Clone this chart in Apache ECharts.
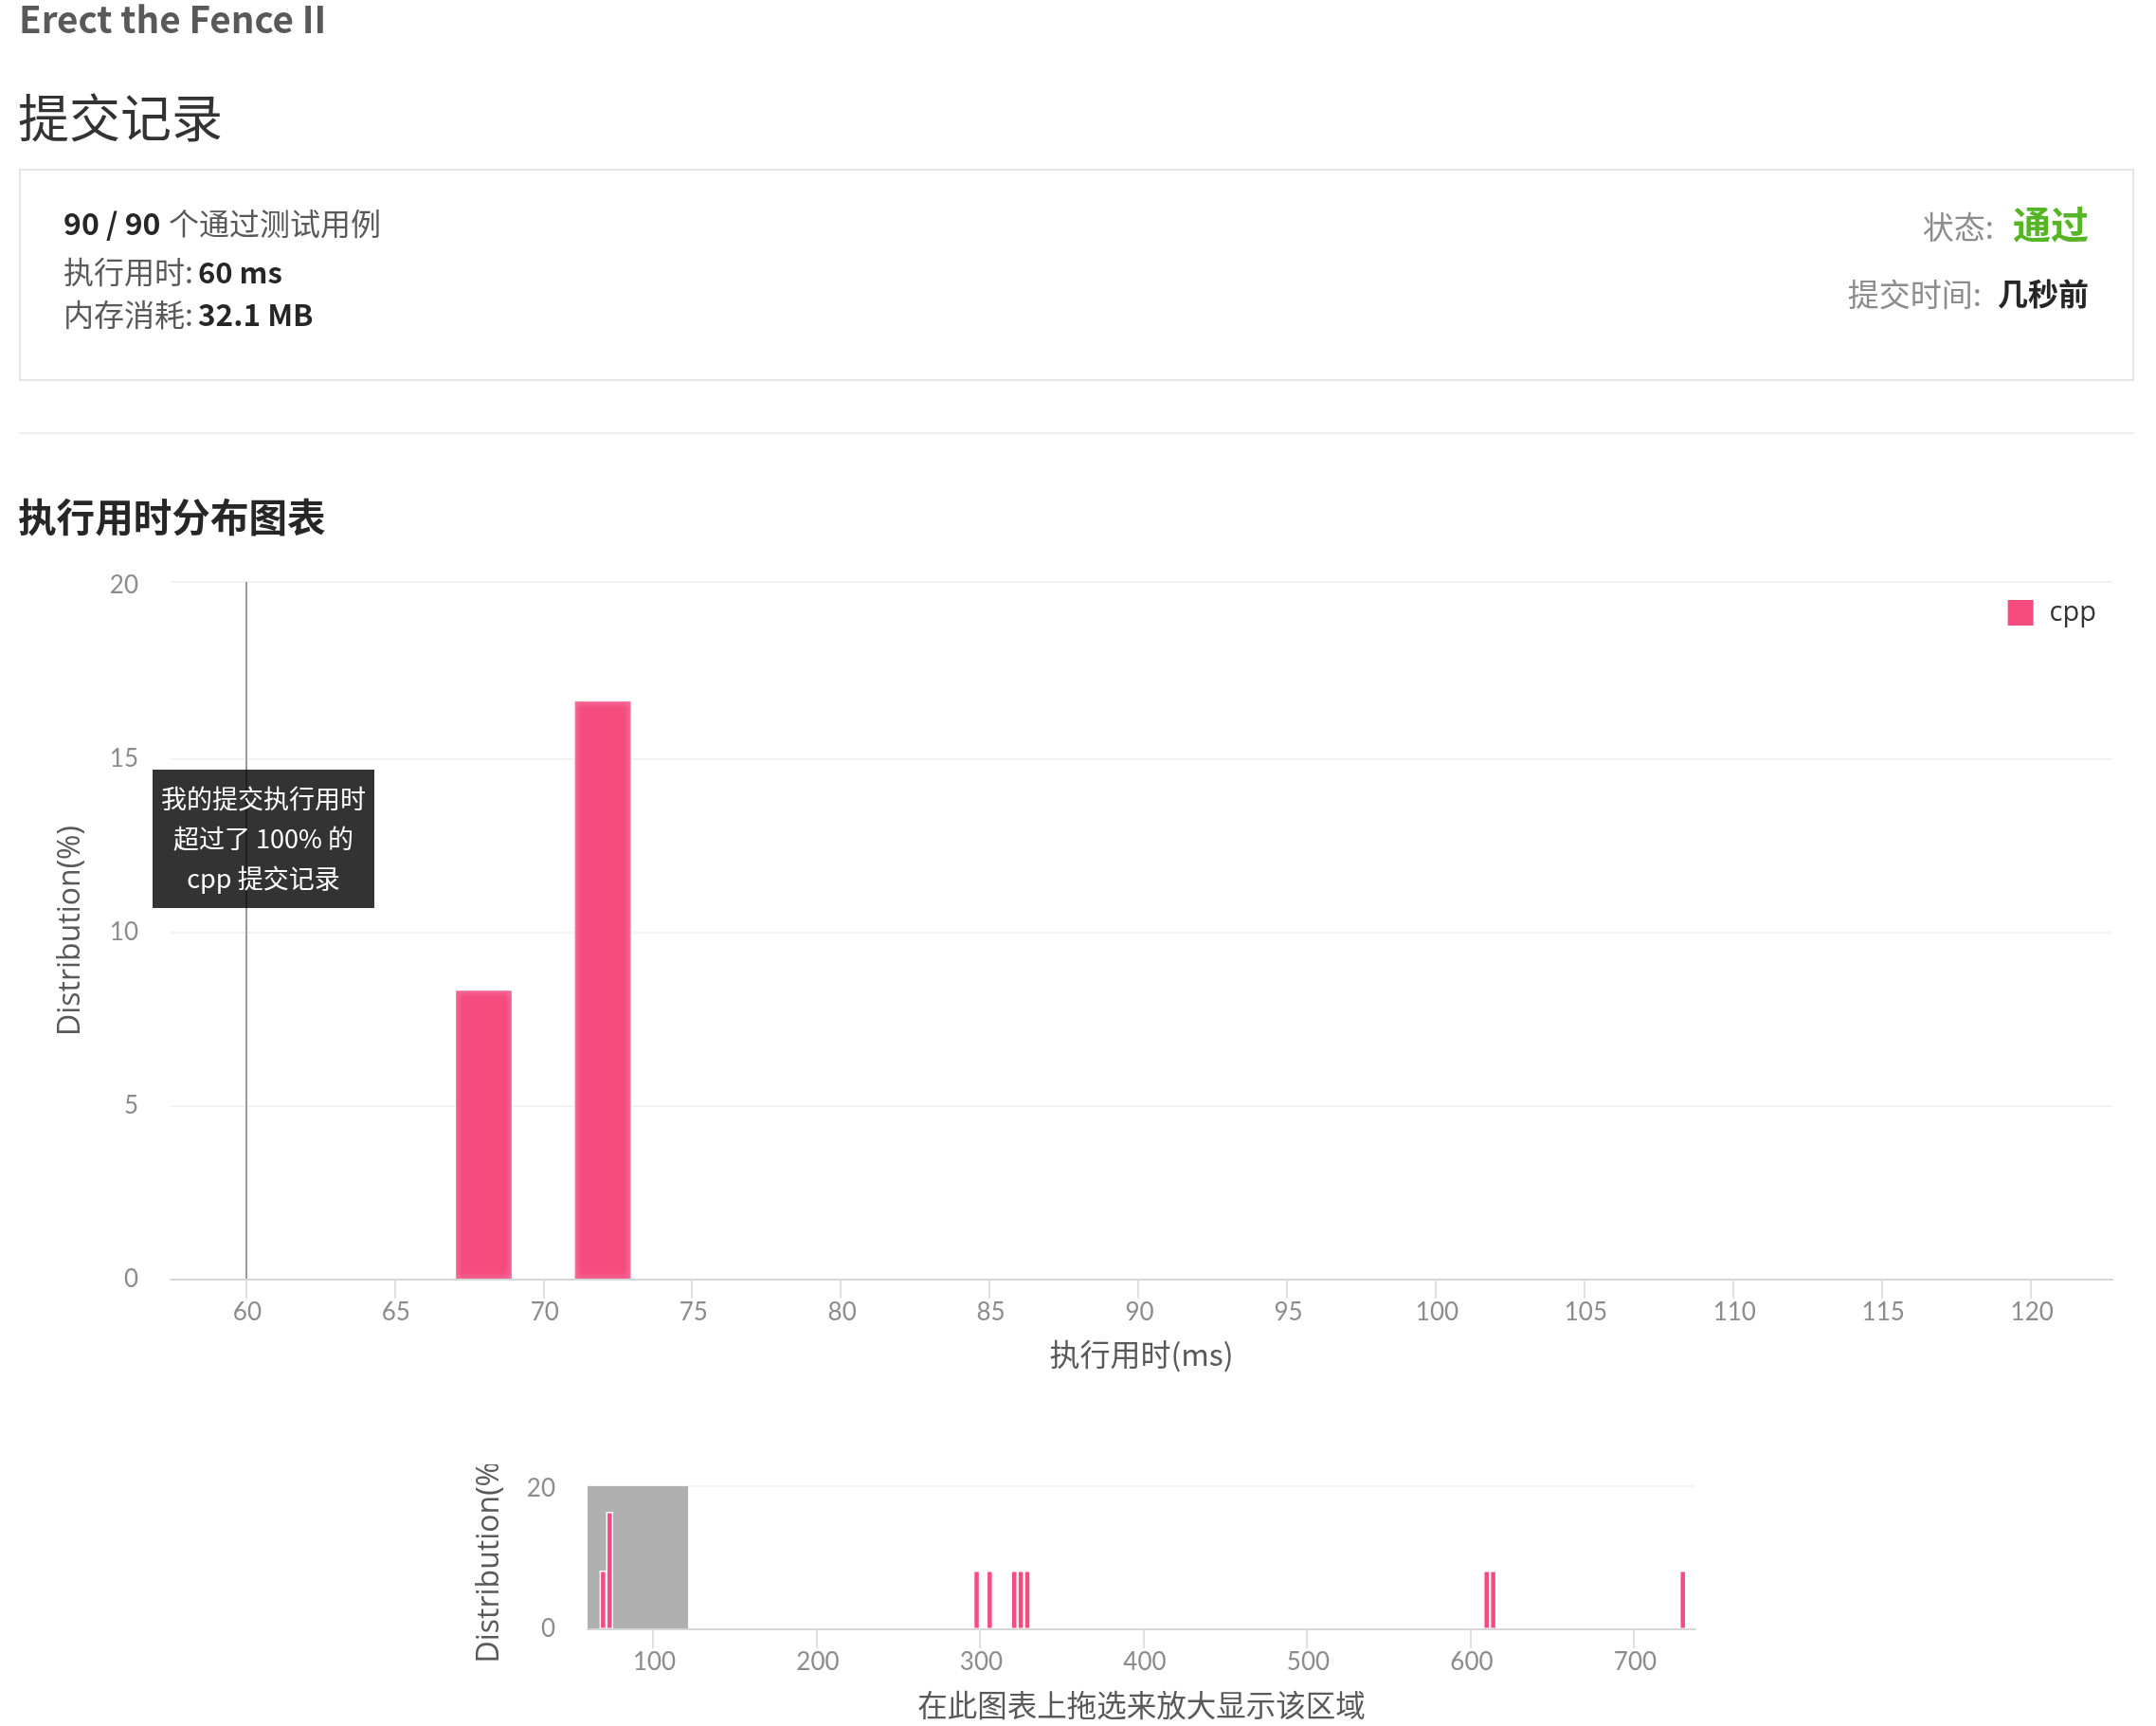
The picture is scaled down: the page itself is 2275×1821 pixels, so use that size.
<!DOCTYPE html>
<html><head><meta charset="utf-8">
<style>html,body{margin:0;padding:0;background:#fff}#c{width:2275px;height:1821px}</style>
<script src="https://cdn.jsdelivr.net/npm/echarts@6/dist/echarts.min.js"></script>
</head><body><div id="c"></div>
<script>
const mainBins = [68,72];
const mainValues = [8.33,16.67];
const overviewBins = [69.5,73.5,298,306,321,325,329,610,614,730];
const overviewValues = [8.33,16.67,8.33,8.33,8.33,8.33,8.33,8.33,8.33,8.33];
const mainTicks = [60,65,70,75,80,85,90,95,100,105,110,115,120];
const overviewTicks = [100,200,300,400,500,600,700];
const mainYLabels = [0,5,10,15,20];
const mainYLines = [0,5,10,15,20.11];
const overviewYLabels = [0,20];
const overviewYLines = [0,20.3];
const mySubmission = 60;
const selectedRange = [60,121.5];
const mainPoints = mainBins.map((x,i)=>[x,mainValues[i]]);
const overviewPoints = overviewBins.map((x,i)=>[x,overviewValues[i]]);

const CJK = '"Noto Sans CJK SC","Noto Sans",sans-serif';
const NUM = 'Lato,"Noto Sans CJK SC",sans-serif';
const PINK = '#f54b7f';
const labelColor = '#8c8c8c', nameColor = '#595959';

function txt(text,x,y,size,fill,weight,align){
  return {type:'text',z:50,style:{text,x,y,fill,align:align||'left',verticalAlign:'middle',
    font:(weight||'normal')+' '+size+'px '+CJK}};
}
const graphic = [
  txt('Erect the Fence II',20,20,38.6,'#595959','bold'),
  txt('提交记录',19,124,54,'#333'),
  {type:'rect',z:1,shape:{x:21,y:179,width:2230,height:222},style:{fill:'#fff',stroke:'#e5e5e5',lineWidth:2}},
  txt('90 / 90',67,236,32,'#262626','bold'),
  txt('个通过测试用例',178,236,32,'#595959'),
  txt('执行用时:',67,287,32,'#595959'),
  txt('60 ms',209,287,31,'#262626','bold'),
  txt('内存消耗:',67,332,32,'#595959'),
  txt('32.1 MB',209,332,31.5,'#262626','bold'),
  txt('状态:',2104,239,33,'#8c8c8c','normal','right'),
  txt('通过',2204,237,40,'#55b525','bold','right'),
  txt('提交时间:',2091,310,33,'#8c8c8c','normal','right'),
  txt('几秒前',2204,310,32,'#262626','bold','right'),
  {type:'rect',z:1,shape:{x:20,y:456,width:2232,height:2},style:{fill:'#efefef'}},
  txt('执行用时分布图表',19,546,40.6,'#262626','bold'),
  {type:'text',z:60,style:{
    text:'我的提交执行用时\n超过了 100% 的\ncpp 提交记录',
    x:278,y:885,align:'center',verticalAlign:'middle',fill:'#fff',
    font:'normal 27px '+CJK,lineHeight:42,
    backgroundColor:'rgba(0,0,0,0.8)',padding:[10,9,10,9]}},
  {type:'rect',z:60,shape:{x:470,y:1500,width:100,height:45},style:{fill:'#fff'}}
];

const chart = echarts.init(document.getElementById('c'),null,{renderer:'canvas'});
const xBase = {
  type:'value',nameLocation:'middle',z:10,
  axisLine:{onZero:false,lineStyle:{color:'#d6d6d6',width:2}},
  axisTick:{show:true,length:20,lineStyle:{color:'#e0e0e0',width:2}},
  splitLine:{show:false},
  nameTextStyle:{fontFamily:CJK,fontSize:32,color:nameColor}
};
const yBase = {
  type:'value',min:0,nameLocation:'middle',
  axisLine:{show:false},
  splitLine:{show:true,lineStyle:{color:'#f2f2f2',width:2}},
  nameTextStyle:{fontFamily:'"Open Sans",sans-serif',fontSize:32,color:nameColor}
};
const lab = {color:labelColor,fontFamily:NUM,fontSize:26};

chart.setOption({
  animation:false,
  backgroundColor:'#fff',
  graphic:{elements:graphic},
  legend:{show:true,right:58,top:627,itemWidth:27,itemHeight:27,icon:'rect',data:['cpp'],
    itemStyle:{borderWidth:0,shadowBlur:0},
    textStyle:{fontFamily:'"Open Sans",sans-serif',fontSize:29,color:'#333',padding:[0,0,0,12]}},
  grid:[
    {left:180,top:614,width:2049,height:736,containLabel:false},
    {left:620,top:1568,width:1169,height:151,containLabel:false}
  ],
  xAxis:[
    Object.assign({},xBase,{gridIndex:0,min:57.47,max:122.75,name:'执行用时(ms)',nameGap:63,
      axisLabel:Object.assign({},lab,{margin:22,padding:[0,0,0,3],customValues:mainTicks}),
      axisTick:Object.assign({},xBase.axisTick,{customValues:mainTicks})}),
    Object.assign({},xBase,{gridIndex:1,min:60,max:737.7,name:'在此图表上拖选来放大显示该区域',nameGap:64,
      nameTextStyle:{fontFamily:CJK,fontSize:31.5,color:nameColor},
      axisLabel:Object.assign({},lab,{margin:22,padding:[0,0,0,3],customValues:overviewTicks}),
      axisTick:Object.assign({},xBase.axisTick,{customValues:overviewTicks})})
  ],
  yAxis:[
    Object.assign({},yBase,{gridIndex:0,max:mainYLines[4],name:'Distribution(%)',nameGap:89,
      axisLabel:Object.assign({},lab,{margin:34,customValues:mainYLabels}),
      axisTick:{show:false,customValues:mainYLines}}),
    Object.assign({},yBase,{gridIndex:1,max:overviewYLines[1],name:'Distribution(%)',nameGap:87,
      axisLabel:Object.assign({},lab,{margin:34,customValues:overviewYLabels}),
      axisTick:{show:false,customValues:overviewYLines}})
  ],
  series:[
    {type:'bar',name:'cpp',xAxisIndex:0,yAxisIndex:0,data:mainPoints,barWidth:59,clip:true,
      itemStyle:{color:PINK,borderColor:'#f87aa2',borderWidth:1,shadowColor:'#fff',shadowBlur:6},
      markLine:{silent:true,symbol:'none',label:{show:false},animation:false,
        lineStyle:{color:'#9a9a9a',width:2,type:'solid'},
        data:[{xAxis:mySubmission}]}},
    {type:'bar',name:'cpp',xAxisIndex:1,yAxisIndex:1,data:overviewPoints,barWidth:7.5,clip:true,
      itemStyle:{color:PINK,borderColor:'#fff',borderWidth:1.5},
      markArea:{silent:true,animation:false,itemStyle:{color:'#b0b0b0'},
        data:[[{xAxis:selectedRange[0]},{xAxis:selectedRange[1]}]]}}
  ]
});
</script></body></html>
